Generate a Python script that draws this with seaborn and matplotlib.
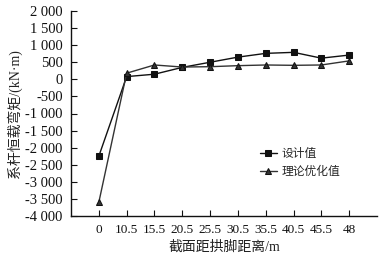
import matplotlib
matplotlib.use("Agg")
import matplotlib.pyplot as plt
import seaborn as sns
import pandas as pd
from matplotlib.ticker import FuncFormatter, MultipleLocator

sns.set_style("ticks")
plt.rcParams['font.family'] = ['Liberation Serif', 'Noto Sans CJK SC']
plt.rcParams['axes.unicode_minus'] = False

categories = ["0", "10.5", "15.5", "20.5", "25.5", "30.5", "35.5", "40.5", "45.5", "48"]
design = [-2250, 80, 150, 350, 500, 650, 760, 790, 620, 710]
theory = [-3600, 180, 420, 360, 370, 400, 420, 410, 420, 540]
series_names = ["设计值", "理论优化值"]

df = pd.concat([
    pd.DataFrame({"x": categories, "y": design, "s": series_names[0]}),
    pd.DataFrame({"x": categories, "y": theory, "s": series_names[1]}),
])

fig = plt.figure(figsize=(3.83, 2.59), dpi=100)
ax = fig.add_axes([71/383, 1-216/259, (377-71)/383, (216-11)/259])

sns.lineplot(data=df, x="x", y="y", hue="s", style="s", sort=False,
             palette={series_names[0]: "#111111", series_names[1]: "#333333"},
             markers={series_names[0]: "s", series_names[1]: "^"},
             dashes=False, markersize=5, linewidth=1.0,
             markeredgecolor="#111111", ax=ax)

ax.set_xlim(-1, 10)
ax.set_ylim(-4000, 2000)
ax.yaxis.set_major_locator(MultipleLocator(500))
ax.yaxis.set_major_formatter(FuncFormatter(lambda v, p: f"{int(v):,}".replace(",", " ")))
for s in ["top", "right"]:
    ax.spines[s].set_visible(False)
for s in ["left", "bottom"]:
    ax.spines[s].set_linewidth(1.0)
    ax.spines[s].set_color("#111111")
ax.tick_params(direction="in", length=4, width=0.8, colors="#111111")
ax.tick_params(axis="y", labelsize=10.5, pad=6)
ax.tick_params(axis="x", labelsize=9.5, pad=6)
ax.set_xlabel("截面距拱脚距离/m", fontsize=10, color="#222222", labelpad=3)
ax.set_ylabel("系杆恒载弯矩/(kN·m)", fontsize=10, color="#222222", labelpad=2)

leg = ax.legend(title=None, frameon=False, fontsize=8.5, loc="upper left",
                bbox_to_anchor=(0.618, 0.33), handlelength=1.4, handletextpad=0.4,
                labelspacing=0.45, borderpad=0, borderaxespad=0)

fig.savefig("out.png", dpi=100)
